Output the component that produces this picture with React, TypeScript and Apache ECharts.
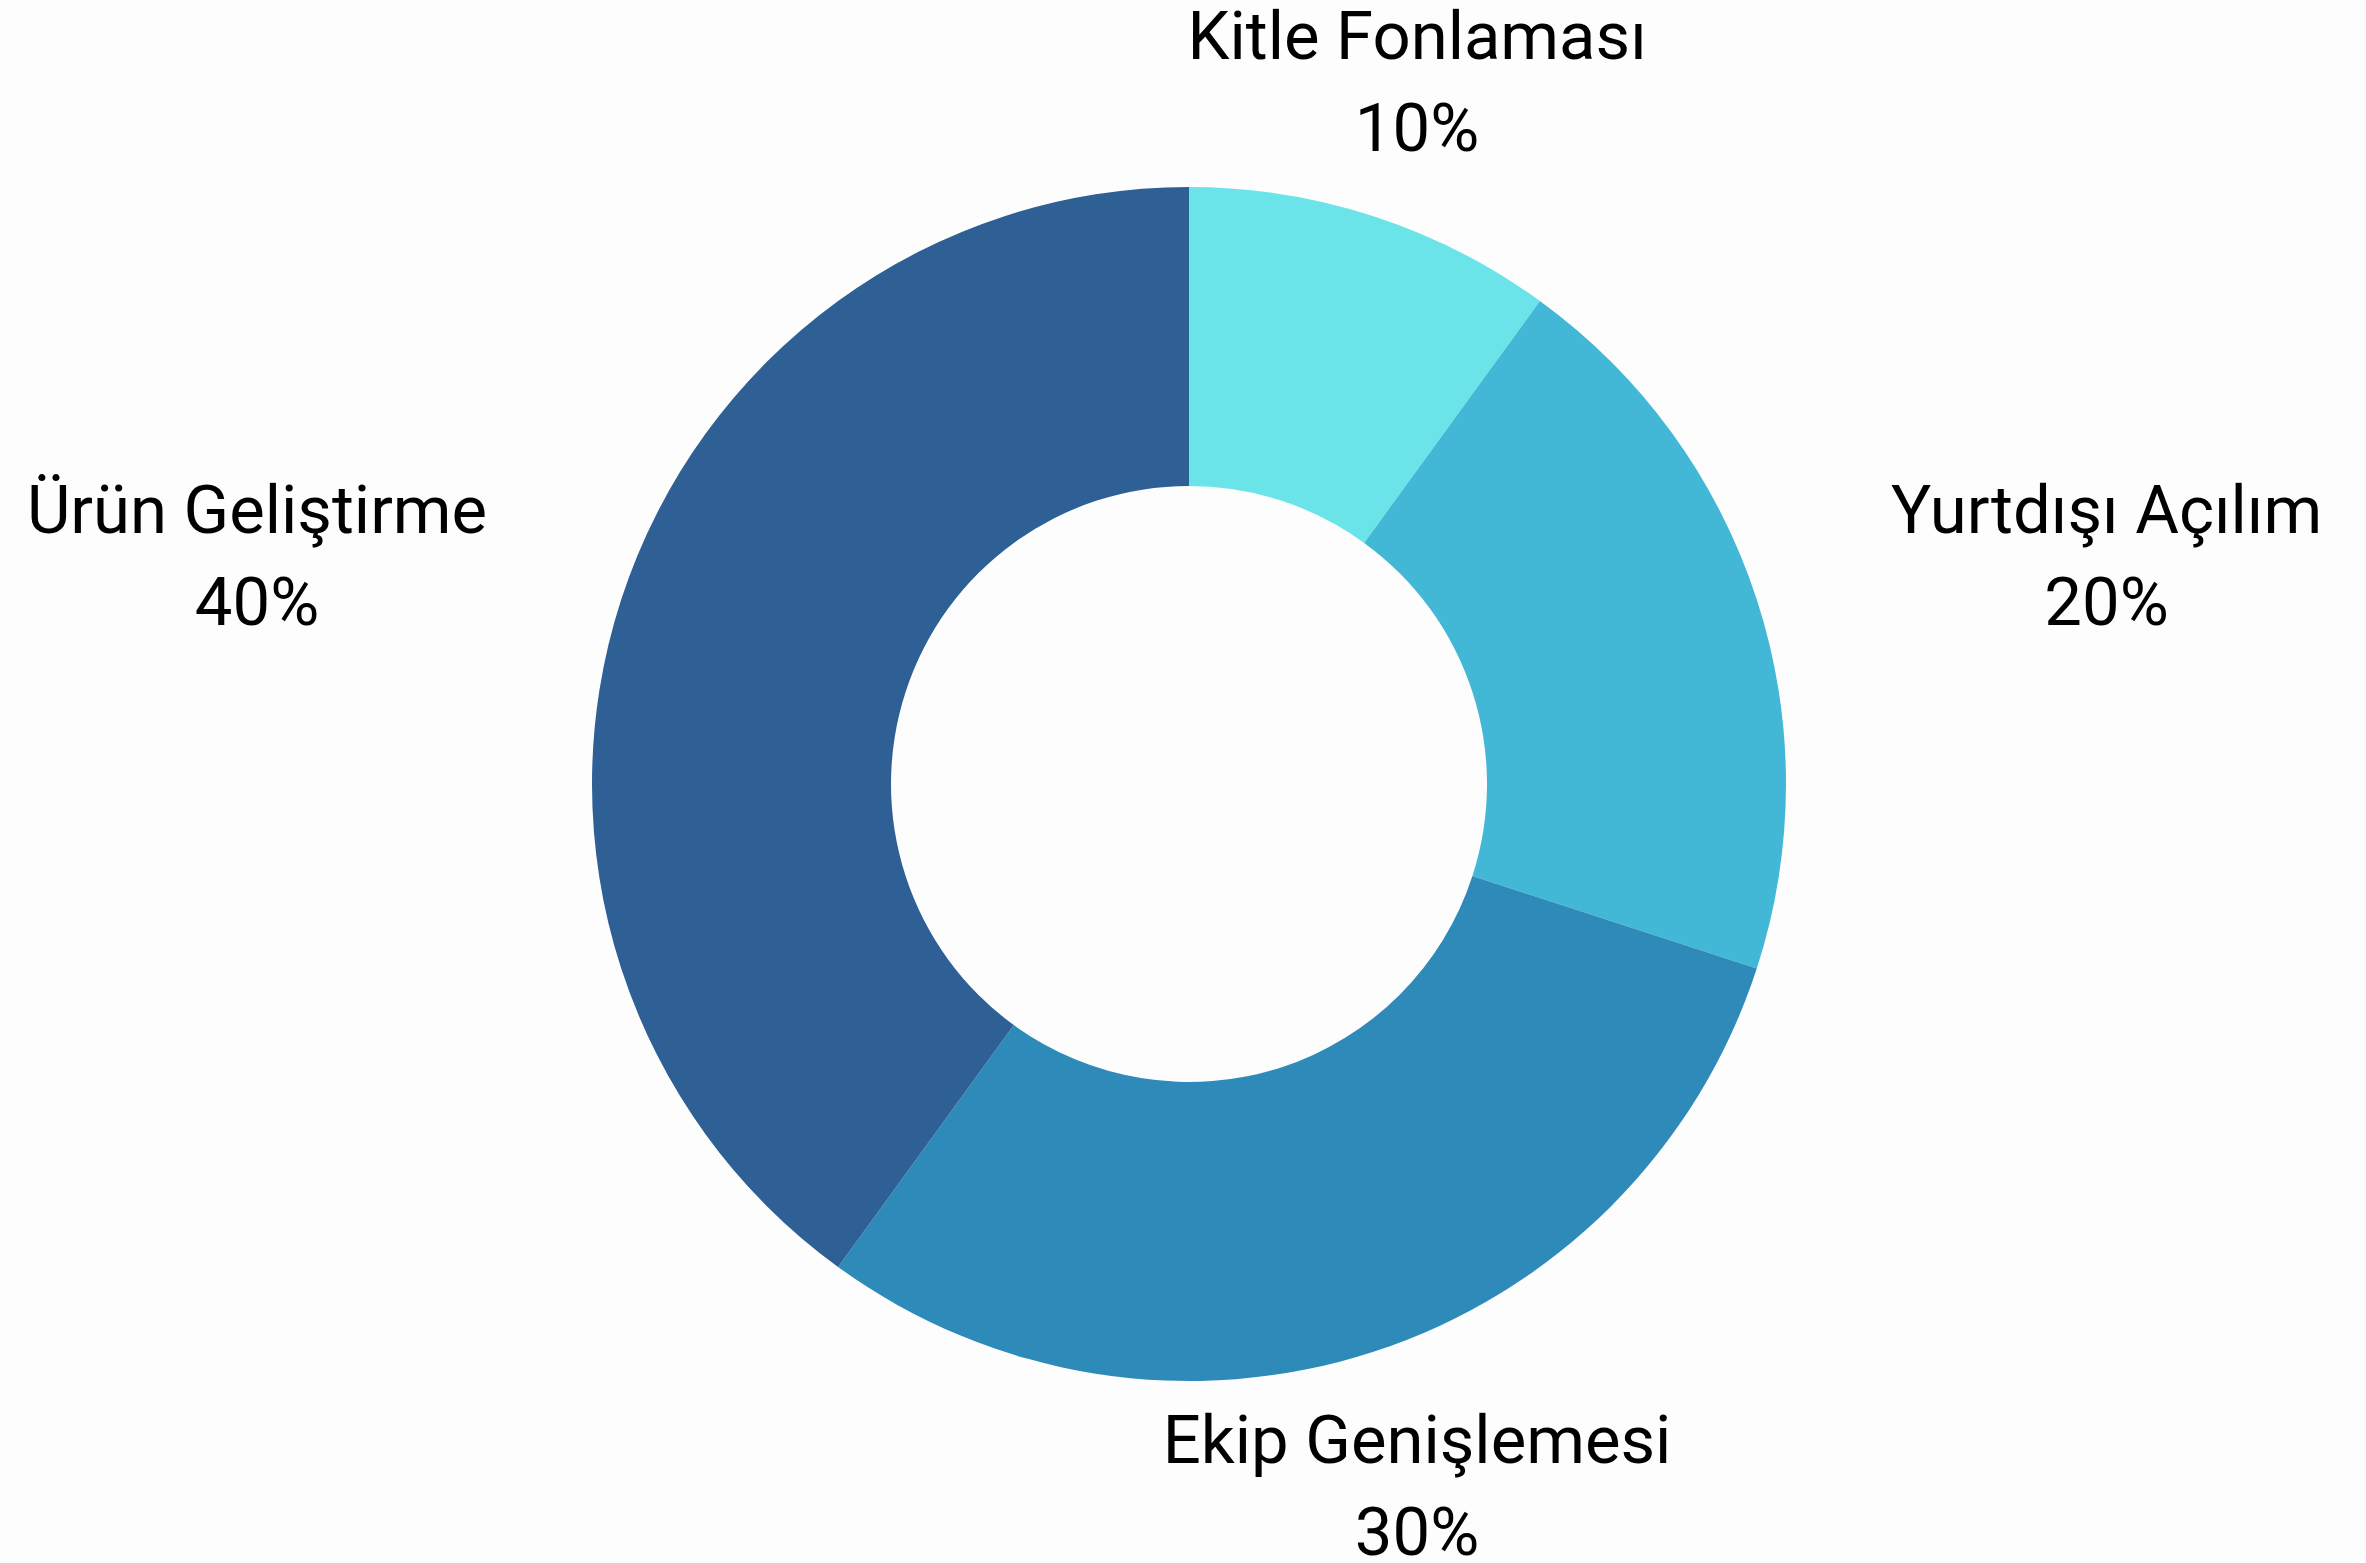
import React, { useEffect, useRef } from "react";
import * as echarts from "echarts";

const categories = ["Kitle Fonlaması", "Yurtdışı Açılım", "Ekip Genişlemesi", "Ürün Geliştirme"];
const values = [10, 20, 30, 40];
const colors = ["#6ae4e8", "#42b7d6", "#2e8bb9", "#2e6096"];

export default function App() {
  const ref = useRef<HTMLDivElement>(null);
  useEffect(() => {
    if (!ref.current) return;
    const chart = echarts.init(ref.current, null, { renderer: "svg" });
    const total = values.reduce((a, b) => a + b, 0);
    const midAngles: number[] = [];
    let acc = 0;
    values.forEach((v) => {
      midAngles.push(((acc + v / 2) / total) * Math.PI * 2);
      acc += v;
    });
    chart.setOption({
      animation: false,
      backgroundColor: "#fdfdfd",
      series: [
        {
          type: "pie",
          center: [1189, 784],
          radius: [298, 597],
          startAngle: 90,
          clockwise: true,
          avoidLabelOverlap: false,
          silent: true,
          data: categories.map((name, i) => ({
            name,
            value: values[i],
            itemStyle: { color: colors[i] },
          })),
          label: {
            show: true,
            position: "outside",
            distanceToLabelLine: 0,
            formatter: (p: any) => `{n|${p.name}}\n{n|${Math.round(p.percent)}%}`,
            rich: {
              n: {
                align: "center",
                fontFamily: "Roboto",
                fontSize: 67,
                lineHeight: 92,
                color: "#000000",
              },
            },
            fontFamily: "Roboto",
            fontSize: 67,
            lineHeight: 92,
            color: "#000000",
          },
          labelLine: { show: false, length: 141, length2: 0 },
          labelLayout: (params: any) => {
            const a = midAngles[params.dataIndex];
            const s = Math.sin(a);
            const align = Math.abs(s) < 0.5 ? "center" : s > 0 ? "left" : "right";
            return { align, verticalAlign: "middle" };
          },
        },
      ],
    });
    return () => chart.dispose();
  }, []);
  return (
    <div
      ref={ref}
      style={{ position: "absolute", left: 0, top: 0, width: 2366, height: 1563 }}
    />
  );
}
